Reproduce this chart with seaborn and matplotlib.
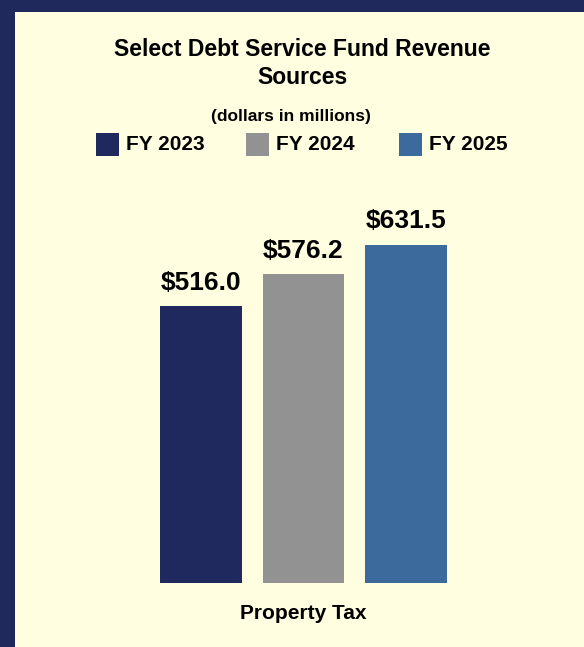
import numpy as np
import pandas as pd
import matplotlib
matplotlib.use("Agg")
import matplotlib.pyplot as plt
from matplotlib.patches import Rectangle
import seaborn as sns

# Données (millions de dollars)
categories = ["Property Tax"]
years = ["FY 2023", "FY 2024", "FY 2025"]
values = [516.0, 576.2, 631.5]
colors = ["#1F295E", "#929292", "#3C6A9C"]

navy = "#20295C"
cream = "#FFFEE0"

df = pd.DataFrame({"Source": categories * len(years), "Year": years, "Value": values})

sns.set_style("white")
plt.rcParams["font.family"] = ["Liberation Sans", "DejaVu Sans"]
plt.rcParams["text.color"] = "black"
plt.rcParams["xtick.color"] = "black"

fig = plt.figure(figsize=(5.84, 6.47), dpi=100)
fig.patch.set_facecolor(navy)
# panneau crème
fig.patches.append(Rectangle((15 / 584, 0), 1 - 15 / 584, 1 - 12 / 647,
                             transform=fig.transFigure, facecolor=cream,
                             edgecolor="none", zorder=-5))

ax = fig.add_axes([111.5 / 584, 64 / 647, 384 / 584, 375.2 / 647])
ax.set_facecolor("none")
ax.set_zorder(2)

sns.barplot(data=df, x="Source", y="Value", hue="Year", palette=colors,
            width=0.8, gap=0.2, ax=ax, legend=False, saturation=1,
            linewidth=0, edgecolor="none")

for cont in ax.containers:
    ax.bar_label(cont, labels=[f"${v:.1f}" for v in cont.datavalues],
                 padding=8, fontsize=19, fontweight="bold")

ax.set_xlim(-0.5, 0.5)
ax.set_ylim(0, 700)
ax.set_yticks([])
ax.set_xlabel("")
ax.set_ylabel("")
ax.tick_params(axis="x", length=0, pad=15, labelsize=15)
for lab in ax.get_xticklabels():
    lab.set_fontweight("bold")
sns.despine(ax=ax, left=True, bottom=True)

# titres
fig.text(302 / 584, 1 - 50 / 647, "Select Debt Service Fund Revenue",
         ha="center", va="center", fontsize=16.5, fontweight="bold")
fig.text(302 / 584, 1 - 78 / 647, "Sources",
         ha="center", va="center", fontsize=16.5, fontweight="bold")
fig.text(291 / 584, 1 - 116 / 647, "(dollars in millions)",
         ha="center", va="center", fontsize=12.5, fontweight="bold")

# légende
leg_x = [96, 246, 399]
for x, yr, c in zip(leg_x, years, colors):
    fig.patches.append(Rectangle((x / 584, 1 - 156 / 647), 23 / 584, 23 / 647,
                                 transform=fig.transFigure, facecolor=c,
                                 edgecolor="none", zorder=1))
    fig.text((x + 30) / 584, 1 - 145 / 647, yr, ha="left", va="center",
             fontsize=15, fontweight="bold")

fig.savefig("out.png", dpi=100, facecolor=fig.get_facecolor())
